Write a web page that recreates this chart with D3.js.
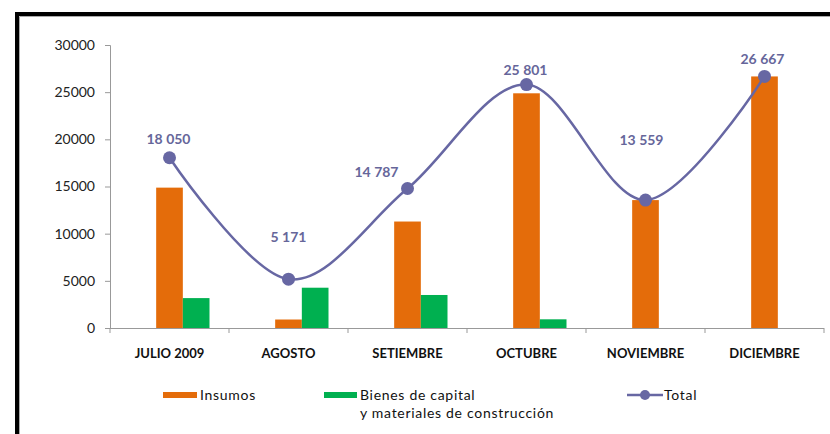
<!DOCTYPE html>
<html>
<head>
<meta charset="utf-8">
<script src="https://cdn.jsdelivr.net/npm/d3@7"></script>
<style>
  body { margin: 0; background: #fff; }
  svg text { font-family: Lato, "Open Sans", sans-serif; }
</style>
</head>
<body>
<div id="chart"></div>
<script>
// data
var months = ["JULIO 2009", "AGOSTO", "SETIEMBRE", "OCTUBRE", "NOVIEMBRE", "DICIEMBRE"];
var insumos = [14880, 900, 11287, 24880, 13559, 26667];
var bienes = [3170, 4271, 3500, 921, 0, 0];
var total = [18050, 5171, 14787, 25801, 13559, 26667];
var totalLabels = ["18 050", "5 171", "14 787", "25 801", "13 559", "26 667"];
var yTicks = [0, 5000, 10000, 15000, 20000, 25000, 30000];

// hand placed data labels (offset from the point)
var labelDx = [-1, 0, -31, -1, -4, -2];
var labelDy = [-14, -37, -12, -10, -55, -12];

var W = 830, H = 434;
var svg = d3.select("#chart").append("svg")
  .attr("width", W)
  .attr("height", H);

// frame
svg.append("path")
  .attr("d", "M17,434 L17,14 L830,14")
  .attr("fill", "none")
  .attr("stroke", "#000")
  .attr("stroke-width", 4);
svg.append("path")
  .attr("d", "M19.5,434 L19.5,16.5 L830,16.5")
  .attr("fill", "none")
  .attr("stroke", "#aaa")
  .attr("stroke-width", 1);

var x0 = d3.scaleBand()
  .domain(months)
  .range([110, 824]);

// excel keeps an empty slot on the left, so orange sits on the category centre
var x1 = d3.scaleBand()
  .domain(["gap", "Insumos", "Bienes"])
  .range([-40, 40]);

var y = d3.scaleLinear()
  .domain([0, 30000])
  .range([328, 45]);

// y axis
var yAxis = svg.append("g")
  .attr("transform", "translate(110,0)")
  .call(d3.axisLeft(y).tickValues(yTicks).tickSize(5).tickPadding(10).tickFormat(d3.format("d")));
yAxis.select(".domain").attr("stroke", "#999");
yAxis.selectAll(".tick line").attr("stroke", "#999");
yAxis.selectAll("text")
  .style("font-size", "14px")
  .attr("fill", "#222");

// x axis
var xg = svg.append("g")
  .attr("transform", "translate(0,328)");
xg.append("line")
  .attr("x1", 110).attr("x2", 824)
  .attr("y1", 0.5).attr("y2", 0.5)
  .attr("stroke", "#999");
xg.selectAll(".xtick")
  .data(months.concat(["end"]))
  .enter().append("line")
  .attr("x1", function(d, i) { return i < months.length ? x0(d) : 824; })
  .attr("x2", function(d, i) { return i < months.length ? x0(d) : 824; })
  .attr("y1", 0).attr("y2", 5)
  .attr("stroke", "#999");
xg.selectAll(".xlab")
  .data(months)
  .enter().append("text")
  .attr("x", function(d) { return x0(d) + x0.bandwidth() / 2; })
  .attr("y", 30)
  .attr("text-anchor", "middle")
  .style("font-size", "13px")
  .style("font-weight", "bold")
  .attr("fill", "#111")
  .text(function(d) { return d; });

// bars
var rows = months.map(function(m, i) {
  return { month: m, Insumos: insumos[i], Bienes: bienes[i] };
});
var colors = { Insumos: "#E46C0A", Bienes: "#00B050" };

var groups = svg.append("g").selectAll("g")
  .data(rows)
  .enter().append("g")
  .attr("transform", function(d) { return "translate(" + (x0(d.month) + x0.bandwidth() / 2) + ",0)"; });

groups.selectAll("rect")
  .data(function(d) {
    return ["Insumos", "Bienes"].filter(function(k) { return d[k] > 0; })
      .map(function(k) { return { key: k, value: d[k] }; });
  })
  .enter().append("rect")
  .attr("x", function(d) { return x1(d.key); })
  .attr("width", x1.bandwidth())
  .attr("y", function(d) { return y(d.value); })
  .attr("height", function(d) { return y(0) - y(d.value); })
  .attr("fill", function(d) { return colors[d.key]; });

// total line
var lineColor = "#6767A3";
var cx = function(i) { return x0(months[i]) + x0.bandwidth() / 2; };
var line = d3.line()
  .x(function(d, i) { return cx(i); })
  .y(function(d) { return y(d); })
  .curve(d3.curveCardinal.tension(0));

svg.append("path")
  .datum(total)
  .attr("d", line)
  .attr("fill", "none")
  .attr("stroke", lineColor)
  .attr("stroke-width", 2.5);

svg.append("g").selectAll("circle")
  .data(total)
  .enter().append("circle")
  .attr("cx", function(d, i) { return cx(i); })
  .attr("cy", function(d) { return y(d); })
  .attr("r", 6.5)
  .attr("fill", lineColor);

svg.append("g").selectAll("text")
  .data(total)
  .enter().append("text")
  .attr("x", function(d, i) { return cx(i) + labelDx[i]; })
  .attr("y", function(d, i) { return y(d) + labelDy[i]; })
  .attr("text-anchor", "middle")
  .style("font-size", "14px")
  .style("font-weight", "bold")
  .attr("fill", "#66669A")
  .text(function(d, i) { return totalLabels[i]; });

// legend
var leg = svg.append("g")
  .style("font-size", "14px")
  .style("letter-spacing", "0.7px")
  .attr("fill", "#111");
leg.append("rect").attr("x", 163).attr("y", 392).attr("width", 34).attr("height", 6).attr("fill", colors.Insumos);
leg.append("text").attr("x", 200).attr("y", 400).text("Insumos");
leg.append("rect").attr("x", 324).attr("y", 392).attr("width", 33).attr("height", 6).attr("fill", colors.Bienes);
leg.append("text").attr("x", 360).attr("y", 400).text("Bienes de capital");
leg.append("text").attr("x", 360).attr("y", 418).text("y materiales de construcción");
leg.append("line").attr("x1", 627).attr("x2", 663).attr("y1", 395).attr("y2", 395)
  .attr("stroke", lineColor).attr("stroke-width", 2.5);
leg.append("circle").attr("cx", 645).attr("cy", 395).attr("r", 5).attr("fill", lineColor);
leg.append("text").attr("x", 664).attr("y", 400).text("Total");
</script>
</body>
</html>
